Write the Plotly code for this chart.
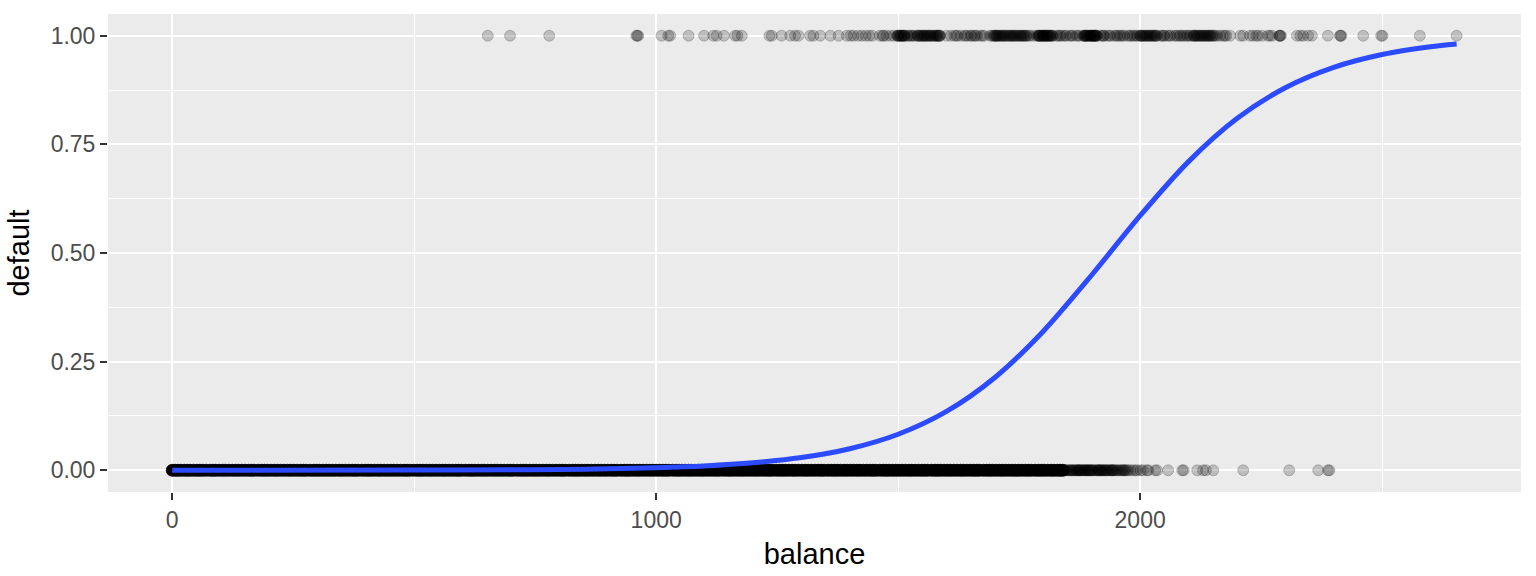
import plotly.graph_objects as go

# y = 1 (defaulted) balances
default_yes_balance = [
    652, 698, 779, 959, 961, 963, 1011, 1025, 1029, 1067, 1099, 1118, 1125, 1140, 1163, 1168, 1177,
    1234, 1239, 1259, 1277, 1287, 1294, 1318, 1325, 1339, 1360, 1377, 1394,
    1402, 1408, 1417, 1425, 1433, 1440, 1447, 1462, 1468, 1476, 1484, 1491, 1498, 1501, 1505, 1509,
    1512, 1514, 1521, 1527, 1533, 1539, 1542, 1546, 1550, 1555, 1559, 1563, 1566, 1571, 1575, 1580,
    1584, 1587, 1609, 1616, 1623, 1630, 1637, 1644, 1650, 1657, 1663, 1670, 1678, 1693, 1697,
    1700, 1704, 1708, 1712, 1716, 1720, 1724, 1729, 1733, 1737, 1741, 1745, 1750, 1754, 1758, 1762,
    1766, 1773, 1780, 1786, 1789, 1792, 1795, 1798, 1800, 1803, 1806, 1809, 1812, 1815, 1818, 1820,
    1827, 1834, 1841, 1848, 1855, 1861, 1868, 1875, 1882, 1885, 1888, 1891, 1894, 1897, 1900, 1903,
    1906, 1909, 1911, 1918, 1925, 1932, 1939, 1946, 1953, 1960, 1967, 1974, 1981, 1988, 1995, 2000,
    2004, 2008, 2012, 2016, 2020, 2024, 2028, 2032, 2035, 2042, 2049, 2056, 2063, 2070, 2077, 2084,
    2091, 2098, 2105, 2110, 2114, 2118, 2122, 2126, 2130, 2134, 2138, 2142, 2145, 2150, 2155, 2159,
    2171, 2178, 2186, 2207, 2213, 2227, 2233, 2244, 2252, 2264, 2273, 2287, 2289, 2291, 2324, 2331,
    2337, 2347, 2355, 2388, 2413, 2416, 2461, 2498, 2501, 2578, 2654,
    # extra overlapping defaults in the darkest stretches
    1499, 1503, 1507, 1511, 1540, 1548, 1553, 1561, 1568, 1577, 1582, 1586, 1519, 1531, 1620, 1640,
    1660, 1674, 1698, 1706, 1714, 1722, 1731, 1739, 1748, 1756, 1764, 1702, 1718, 1735, 1752,
    1790, 1797, 1804, 1811, 1817, 1793, 1801, 1808, 1830, 1845, 1858, 1871, 1884, 1890, 1896,
    1902, 1908, 1887, 1899, 1905, 1910, 1922, 1936, 1950, 1964, 1978, 1992, 2002, 2010, 2018,
    2026, 2033, 2006, 2022, 2045, 2060, 2074, 2088, 2102, 2112, 2120, 2128, 2136, 2144, 2116,
    2132, 2148, 2165, 2175, 2240, 2268, 2289, 2414,
    1500, 1506, 1513, 1544, 1552, 1557, 1565, 1573, 1579, 1585, 1703, 1710, 1727, 1743, 1760,
    1791, 1799, 1807, 1814, 1886, 1892, 1898, 1904, 1907, 2001, 2014, 2030, 2111, 2124, 2140,
    1470, 1525, 1600, 1652, 1690, 1770, 1836, 1925, 1957, 1985, 2050, 2082, 2096, 2152,
]

# y = 0 (no default): the saturated solid band, positions read along it
default_no_band_balance = [
    0, 6, 12, 18, 25, 31, 37, 44, 51, 57, 63, 70, 78, 84, 90, 97, 104, 110, 117, 124, 131, 137,
    144, 151, 158, 164, 170, 178, 185, 191, 197, 204, 211, 217, 224, 231, 238, 244, 251, 258, 265,
    271, 277, 285, 292, 298, 304, 311, 318, 324, 331, 338, 345, 351, 358, 365, 372, 378, 384, 392,
    399, 405, 411, 418, 425, 431, 438, 445, 452, 458, 465, 472, 479, 485, 491, 499, 506, 512, 518,
    525, 532, 538, 545, 552, 559, 565, 572, 579, 586, 592, 598, 606, 613, 619, 625, 632, 639, 645,
    652, 659, 666, 672, 679, 686, 693, 699, 705, 713, 720, 726, 732, 739, 746, 752, 759, 766, 773,
    779, 786, 793, 800, 806, 812, 820, 827, 833, 839, 846, 853, 859, 866, 873, 880, 886, 893, 900,
    907, 913, 919, 927, 934, 940, 946, 953, 960, 966, 973, 980, 987, 993, 1000, 1007, 1014, 1020,
    1026, 1034, 1041, 1047, 1053, 1060, 1067, 1073, 1080, 1087, 1094, 1100, 1107, 1114, 1121, 1127,
    1133, 1141, 1148, 1154, 1160, 1167, 1174, 1180, 1187, 1194, 1201, 1207, 1214, 1221, 1228, 1234,
    1240, 1248, 1255, 1261, 1267, 1274, 1281, 1287, 1294, 1301, 1308, 1314, 1321, 1328, 1335, 1341,
    1347, 1355, 1362, 1368, 1374, 1381, 1388, 1394, 1401, 1408, 1415, 1421, 1428, 1435, 1442, 1448,
    1454, 1462, 1469, 1475, 1481, 1488, 1495, 1501, 1508, 1515, 1522, 1528, 1535, 1542, 1549, 1555,
    1561, 1569, 1576, 1582, 1588, 1595, 1602, 1608, 1615, 1622, 1629, 1635, 1642, 1649, 1656, 1662,
    1668, 1676, 1683, 1689, 1695, 1702, 1709, 1715, 1722, 1729, 1736, 1742, 1749, 1756, 1763, 1769,
    1775, 1783, 1790, 1796, 1802, 1809, 1816, 1822, 1829, 1835, 1840,
]

# y = 0 (no default): individually visible tail points
default_no_tail_balance = [
    1843, 1845, 1847, 1849, 1852, 1854, 1856, 1858, 1860, 1862, 1863, 1866, 1868, 1870, 1871, 1872,
    1874, 1875, 1877, 1879, 1880, 1882, 1884, 1886, 1887, 1888, 1890, 1892, 1893, 1895, 1896, 1898,
    1899, 1901, 1903, 1905, 1908, 1910, 1912, 1914, 1915, 1916, 1918, 1920, 1921, 1923, 1925, 1927,
    1928, 1930, 1932, 1934, 1936, 1939, 1941, 1942, 1943, 1945, 1947, 1950, 1952, 1955, 1958, 1961,
    1963, 1966, 1967, 1969, 1972, 1975, 1980, 1985, 1990, 1994, 2001, 2006, 2014, 2017, 2031, 2035,
    2058, 2087, 2090, 2118, 2130, 2136, 2151, 2213, 2308, 2368, 2388, 2391,
]

# fitted probability curve
curve_balance = [0, 500, 700, 800, 900, 1000, 1100, 1200, 1300, 1400, 1500, 1600, 1700, 1800,
                 1900, 2000, 2100, 2200, 2300, 2400, 2500, 2600, 2654]
curve_prob = [0.00002, 0.0004, 0.0011, 0.0019, 0.0033, 0.0058, 0.0099, 0.0171, 0.0292, 0.0496,
              0.0829, 0.1355, 0.2136, 0.3201, 0.4494, 0.5859, 0.7103, 0.8094, 0.8804, 0.9273,
              0.9568, 0.9746, 0.9810]

x_tick_vals = [0, 1000, 2000]
y_tick_vals = [0.0, 0.25, 0.5, 0.75, 1.0]

FONT = "Liberation Sans, Arial, sans-serif"
pt_color = "rgba(0,0,0,0.2)"

fig = go.Figure()

fig.add_trace(go.Scatter(
    x=default_no_band_balance, y=[0] * len(default_no_band_balance), mode="markers",
    marker=dict(size=12, color="black", line=dict(width=0.8, color="black")),
    showlegend=False))

fig.add_trace(go.Scatter(
    x=default_no_tail_balance, y=[0] * len(default_no_tail_balance), mode="markers",
    marker=dict(size=11, color=pt_color, line=dict(width=1, color=pt_color)),
    showlegend=False))

fig.add_trace(go.Scatter(
    x=default_yes_balance, y=[1] * len(default_yes_balance), mode="markers",
    marker=dict(size=11, color=pt_color, line=dict(width=1, color=pt_color)),
    showlegend=False))

fig.add_trace(go.Scatter(
    x=curve_balance, y=curve_prob, mode="lines",
    line=dict(color="#2C4AFF", width=5, shape="spline", smoothing=0.8),
    showlegend=False))

fig.update_layout(
    width=1536, height=576,
    margin=dict(l=108, r=15, t=14, b=84),
    paper_bgcolor="white",
    plot_bgcolor="#EBEBEB",
    font=dict(family=FONT, color="#4D4D4D", size=23),
    xaxis=dict(
        range=[-132.7, 2787], tickvals=x_tick_vals, ticktext=[str(v) for v in x_tick_vals],
        showgrid=True, gridcolor="white", gridwidth=2.2, zeroline=False,
        minor=dict(showgrid=True, gridcolor="white", gridwidth=1.1, dtick=500, tick0=0),
        ticks="outside", ticklen=7, tickwidth=2, tickcolor="#333333",
        tickfont=dict(size=23, color="#4D4D4D", family=FONT),
        title=dict(text="balance", font=dict(size=29, color="black", family=FONT), standoff=12),
        showline=False, automargin=False,
    ),
    yaxis=dict(
        range=[-0.05, 1.05], tickvals=y_tick_vals, ticktext=["%.2f" % v for v in y_tick_vals],
        showgrid=True, gridcolor="white", gridwidth=2.2, zeroline=False,
        minor=dict(showgrid=True, gridcolor="white", gridwidth=1.1, dtick=0.125, tick0=0),
        ticks="outside", ticklen=7, tickwidth=2, tickcolor="#333333",
        tickfont=dict(size=23, color="#4D4D4D", family=FONT),
        title=dict(text="default", font=dict(size=29, color="black", family=FONT), standoff=12),
        showline=False, automargin=False,
    ),
)

fig.write_html("out.html", config={"displayModeBar": False},
               post_script="document.body.style.margin='0';document.body.style.overflow='hidden';")
